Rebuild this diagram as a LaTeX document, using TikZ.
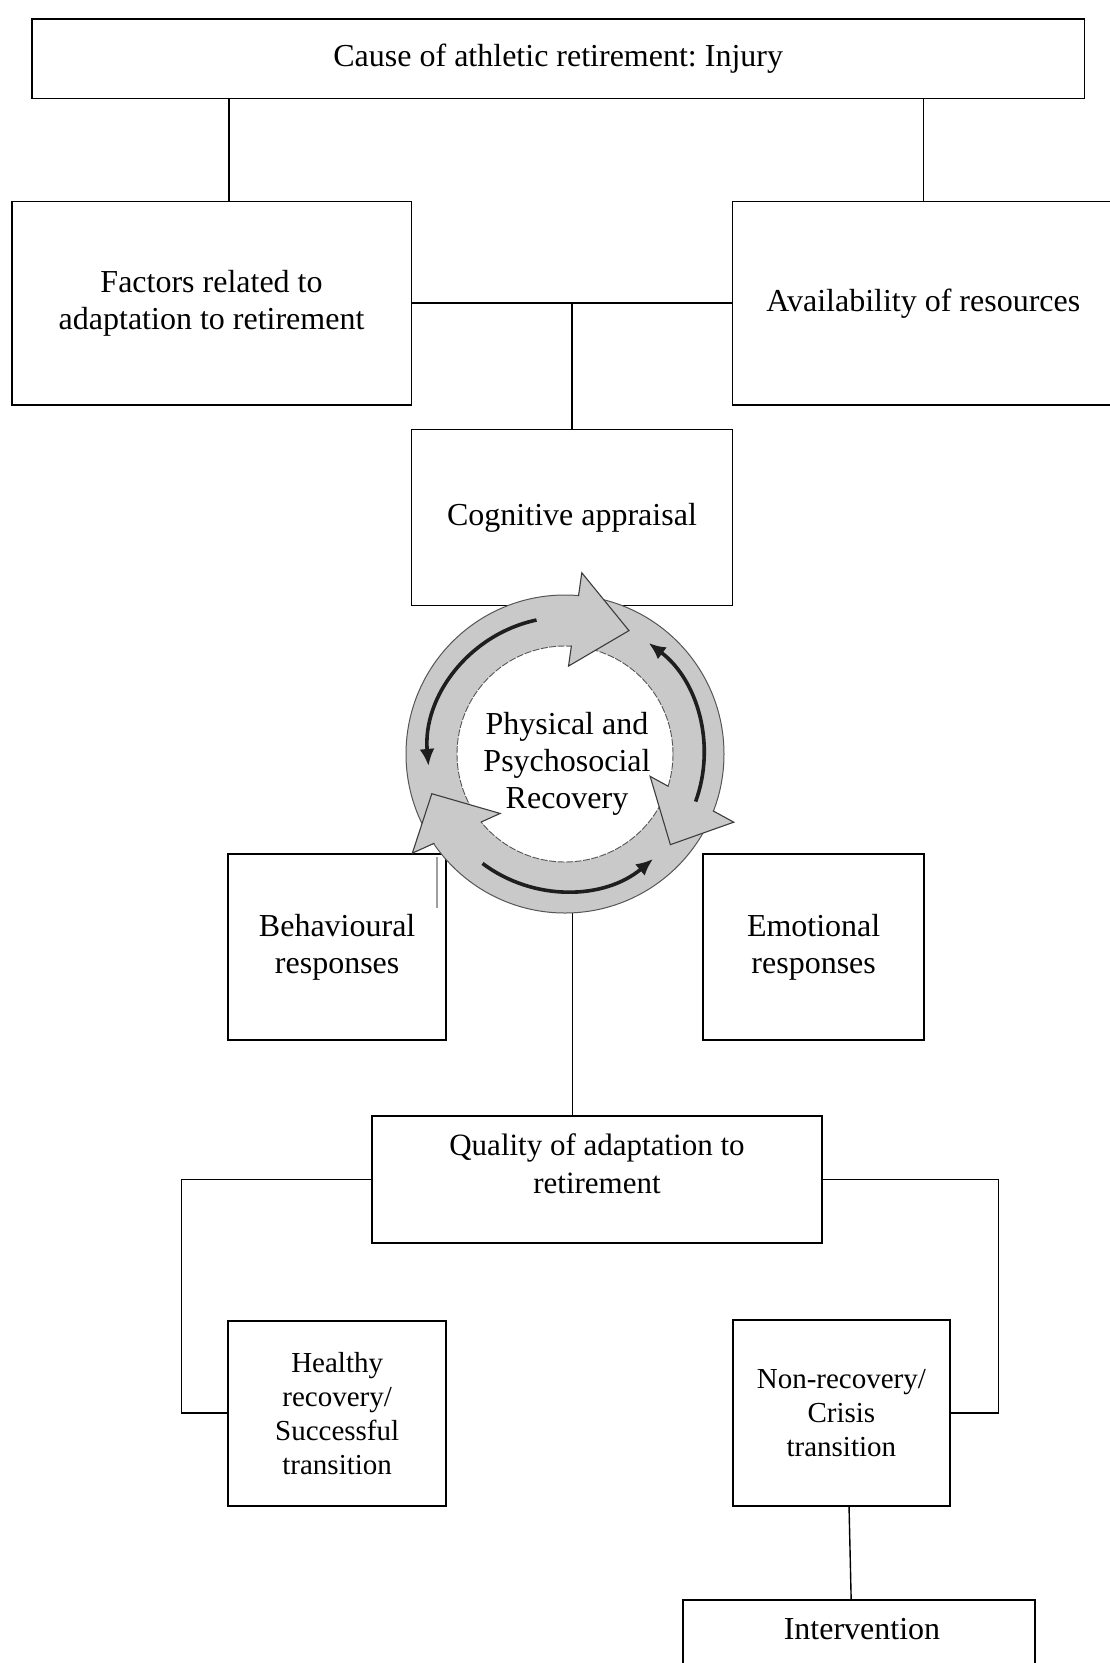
\documentclass[tikz,border=0pt]{standalone}
\usepackage{fontspec}
\setmainfont{Liberation Serif}
\usetikzlibrary{arrows.meta,calc}
\definecolor{ringgrey}{HTML}{C9C9C9}
\definecolor{ringline}{HTML}{555555}
\definecolor{headline}{HTML}{3C3C3C}
\definecolor{arrowdark}{HTML}{1E1E1E}
\frenchspacing
\begin{document}
\begin{tikzpicture}[x=1pt,y=1pt,
  box/.style={draw=black, line width=1.7pt, rectangle, inner sep=0pt, align=center,
              font=\fontsize{32}{37}\selectfont},
  smallbox/.style={box, font=\fontsize{29}{34}\selectfont},
  conn/.style={draw=black, line width=1.5pt},
  txt/.style={align=center, inner sep=0pt, font=\fontsize{32}{37}\selectfont},
  qtxt/.style={align=center, inner sep=0pt, font=\fontsize{31}{38}\selectfont},
  blackarr/.style={draw=arrowdark, line width=3.6pt, -{Latex[length=17pt,width=15pt]}},
]
\useasboundingbox (0,0) rectangle (1109,-1663);
\fill[white] (0,0) rectangle (1109,-1663);

% boxes
\node[box, minimum width=1052.8pt, minimum height=79.5pt] (top) at (558.2,-58.85)
  {Cause of athletic retirement: Injury};
\node[box, minimum width=399.7pt, minimum height=203.6pt] (factors) at (211.55,-303.2)
  {Factors related to\\adaptation to retirement};
\node[box, minimum width=381.4pt, minimum height=203.6pt] (avail) at (923.3,-303.2)
  {Availability of resources};
\node[box, minimum width=321.2pt, minimum height=176pt] (cog) at (572,-517.4)
  {Cognitive appraisal};
\node[box, minimum width=217.7pt, minimum height=186pt] (behav) at (337.15,-947)
  {Behavioural\\responses};
\node[box, minimum width=220.7pt, minimum height=186pt] (emot) at (813.65,-947)
  {Emotional\\responses};
\node[box, minimum width=450.6pt, minimum height=126.7pt] (quality) at (597,-1179.35) {};
\node[qtxt] (qualitytext) at (597,-1163.5) {Quality of adaptation to\\retirement};
\node[smallbox, minimum width=217.7pt, minimum height=185pt] (healthy) at (337.15,-1413.2)
  {Healthy\\recovery/\\Successful\\transition};
\node[smallbox, minimum width=217.3pt, minimum height=186pt] (nonrec) at (841.35,-1413)
  {Non-recovery/\\Crisis\\transition};
\node[box, minimum width=351.7pt, minimum height=140pt] (interv) at (859.15,-1670) {};
\node[txt] (intervtext) at (862,-1629.5) {Intervention};

% connectors
\draw[conn] ([xshift=17.45pt]factors.north) -- ++(0,102.8);
\draw[conn] (avail.north) -- (avail.north |- top.south);
\draw[conn] (factors.east) -- (avail.west);
\draw[conn] (cog.north) -- (cog.north |- factors.east);
\coordinate (ringbottom) at (572.7,-900);
\draw[conn] (ringbottom) -- (ringbottom |- quality.north);
\draw[conn] (quality.west) -| ([xshift=-46pt]healthy.west) -- (healthy.west);
\draw[conn] (quality.east) -| ([xshift=47.7pt]nonrec.east) -- (nonrec.east);
\draw[conn, line width=1.4pt] ([xshift=7.7pt]nonrec.south) -- ([xshift=-8pt]interv.north);

% small image artefact beside the ring
\draw[gray!75, line width=1.5pt] (437,-857) -- (437,-908);

% recovery cycle
\coordinate (ring) at (565,-754);
\begin{scope}[shift={(565,-754)}]
  \fill[ringgrey] (0,0) circle[radius=159pt];
  \fill[white] (0,0) circle[radius=108pt];
  \draw[ringline, line width=1pt] (0,0) circle[radius=159pt];
  \draw[ringline, line width=0.9pt, dash pattern=on 7pt off 1.5pt] (0,0) circle[radius=108pt];
  \foreach \oa/\ia/\ta in {84.7/87.7/62.6, -22/-14.7/-40.7, 213/222.5/196.6} {
    \coordinate (ho) at (\oa:182pt);
    \coordinate (hi) at (\ia:88pt);
    \coordinate (ht) at (\ta:139pt);
    \fill[ringgrey] (ho) -- (ht) -- (hi) -- cycle;
    \draw[headline, line width=1.1pt, line join=miter]
      ($(ho)!0.25!(hi)$) -- (ho) -- (ht) -- (hi) -- ($(ho)!0.78!(hi)$);
  }
  \draw[blackarr] (102:137pt) arc[start angle=102, end angle=185, radius=137pt];
  \draw[blackarr] (-20:139pt) arc[start angle=-20, end angle=53, radius=139pt];
  \draw[blackarr] (233:137pt) arc[start angle=233, end angle=310, radius=137pt];
\end{scope}
\node[txt] (recovery) at (567,-764) {Physical and\\Psychosocial\\Recovery};
\end{tikzpicture}
\end{document}
